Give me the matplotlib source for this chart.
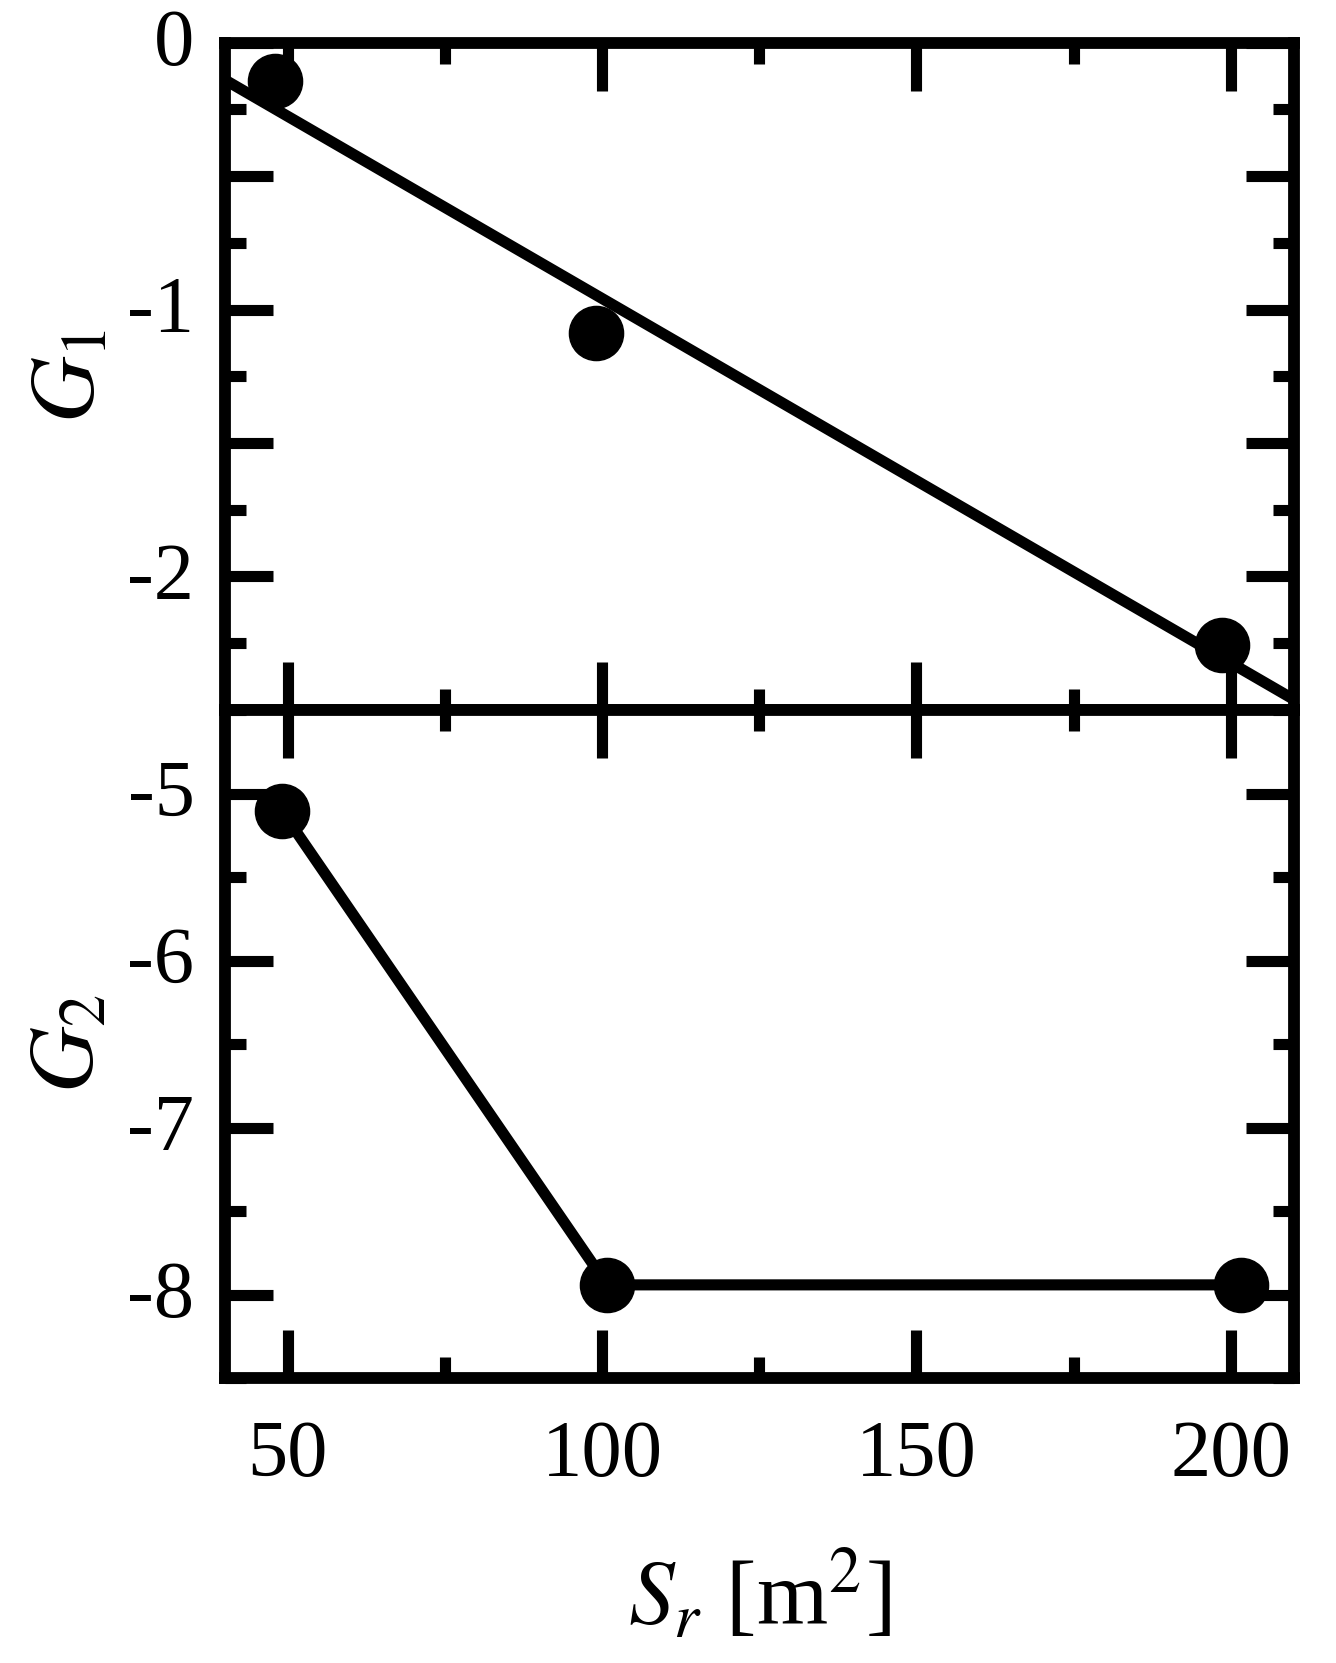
import matplotlib
matplotlib.use("Agg")
import matplotlib.pyplot as plt
from matplotlib.ticker import FixedLocator, FixedFormatter, MultipleLocator
from matplotlib.transforms import ScaledTranslation

plt.rcParams['font.family'] = ['Liberation Serif', 'DejaVu Serif']
plt.rcParams['mathtext.fontset'] = 'stix'

# upper panel: G1 vs S_r with straight fit line
s_r_g1 = [48.0, 99.0, 198.7]
g1 = [-0.144, -1.089, -2.257]
fit_x = [40, 210]
fit_y = [-0.14, -2.46]

# lower panel: G2 vs S_r
s_r_g2 = [49.1, 100.8, 201.7]
g2 = [-5.106, -7.94, -7.94]

x_ticks = [50, 100, 150, 200]
x_labels = ['50', '100', '150', '200']
g1_ticks = [0, -0.5, -1, -1.5, -2, -2.5]
g1_labels = ['0', '', '-1', '', '-2', '']
g2_ticks = [-5, -6, -7, -8]
g2_labels = ['-5', '-6', '-7', '-8']

FS = 58
LFS = 66
LW = 8
MS = 39


def style_axes(ax):
    for sp in ax.spines.values():
        sp.set_linewidth(8.5)
    ax.tick_params(which='both', direction='in', top=True, right=True,
                   width=8, labelsize=FS)
    ax.tick_params(axis='x', pad=30)
    ax.tick_params(axis='y', pad=22)
    ax.tick_params(which='major', length=34.5)
    ax.tick_params(which='minor', length=15)
    ax.set_xlim(40, 210)
    ax.xaxis.set_major_locator(FixedLocator(x_ticks))
    ax.xaxis.set_minor_locator(MultipleLocator(25))


def nudge_ylabels(fig, ax):
    # lift y tick labels a little so digits sit centred on the ticks
    off = ScaledTranslation(0, 4 / 72, fig.dpi_scale_trans)
    for lab in ax.get_yticklabels():
        lab.set_transform(lab.get_transform() + off)


fig = plt.figure(figsize=(13.36, 16.63), dpi=100)
ax1 = fig.add_axes([0.1684, 0.5731, 0.7998, 0.4013])
ax2 = fig.add_axes([0.1684, 0.1711, 0.7998, 0.4020])

# top panel
style_axes(ax1)
ax1.plot(fit_x, fit_y, color='black', lw=LW, solid_capstyle='butt')
ax1.plot(s_r_g1, g1, 'o', color='black', ms=MS, clip_on=False, zorder=5)
ax1.set_ylim(-2.5, 0)
ax1.yaxis.set_major_locator(FixedLocator(g1_ticks))
ax1.yaxis.set_major_formatter(FixedFormatter(g1_labels))
ax1.yaxis.set_minor_locator(MultipleLocator(0.25))
ax1.tick_params(axis='x', labelbottom=False)
ax1.set_ylabel(r'$G_1$', fontsize=LFS)
ax1.yaxis.set_label_coords(-0.105, 0.5)
nudge_ylabels(fig, ax1)

# bottom panel
style_axes(ax2)
ax2.plot(s_r_g2, g2, 'o-', color='black', lw=LW, ms=MS, clip_on=False, zorder=5)
ax2.set_ylim(-8.5, -4.5)
ax2.yaxis.set_major_locator(FixedLocator(g2_ticks))
ax2.yaxis.set_major_formatter(FixedFormatter(g2_labels))
ax2.yaxis.set_minor_locator(MultipleLocator(0.5))
ax2.xaxis.set_major_formatter(FixedFormatter(x_labels))
ax2.set_ylabel(r'$G_2$', fontsize=LFS)
ax2.yaxis.set_label_coords(-0.105, 0.5)
ax2.set_xlabel(r'$S_r$ [m$^2$]', fontsize=LFS, labelpad=40)
nudge_ylabels(fig, ax2)

fig.savefig('out.png', dpi=100)
